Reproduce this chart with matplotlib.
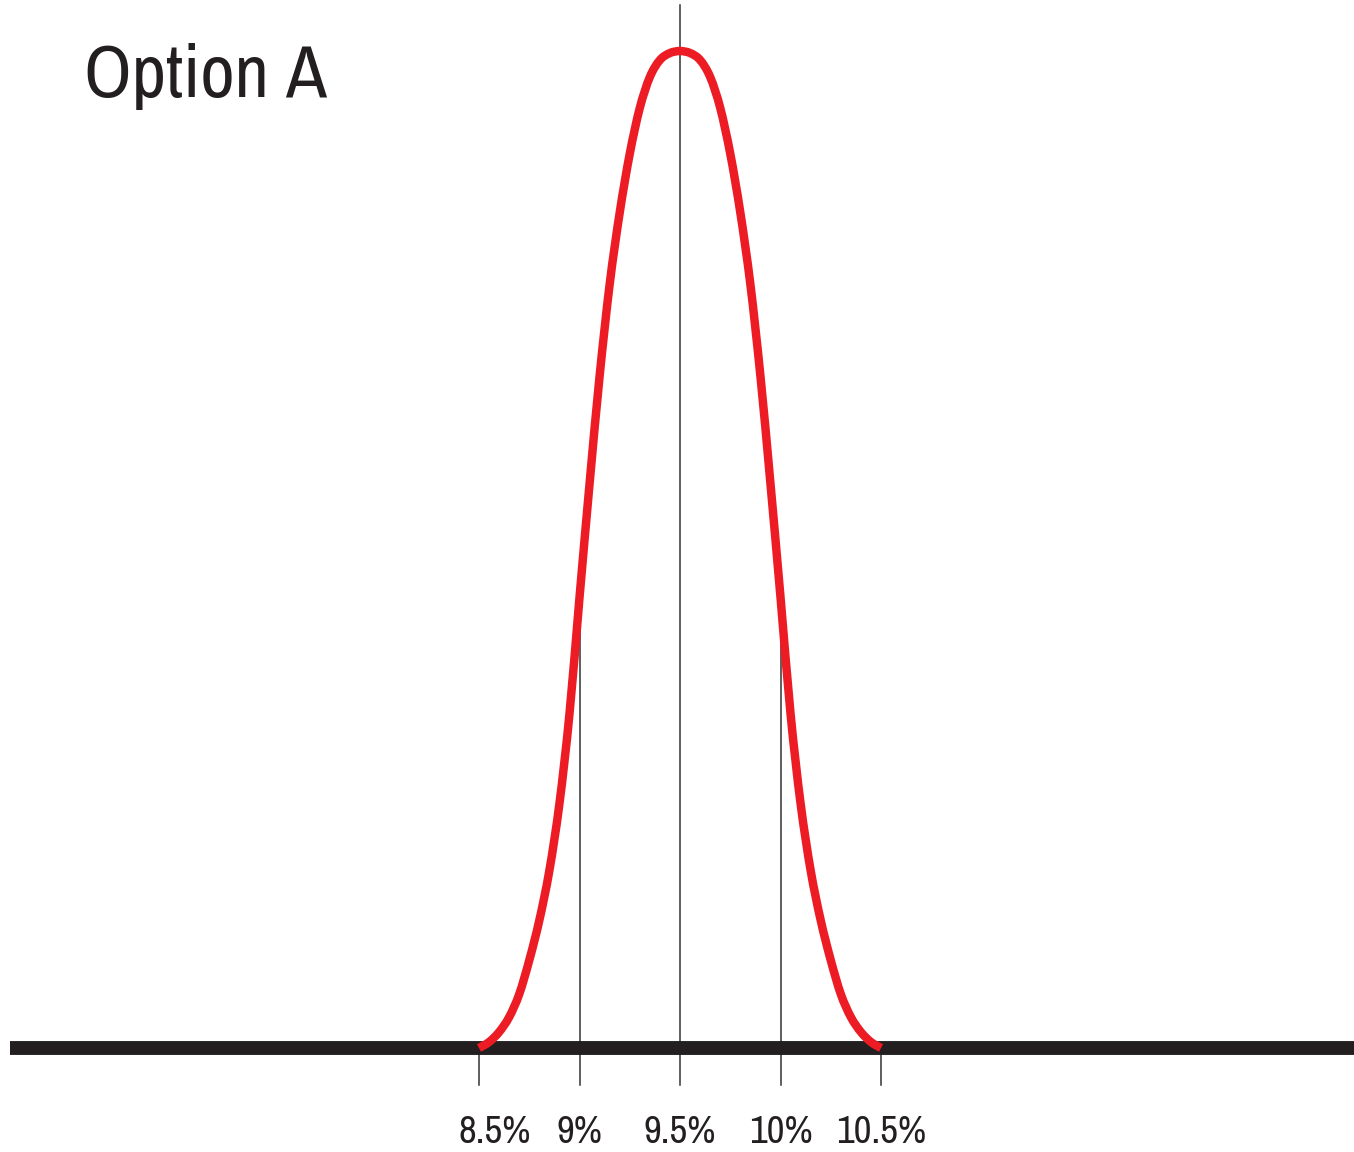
import numpy as np
import matplotlib
matplotlib.use("Agg")
import matplotlib.pyplot as plt
from matplotlib import font_manager
from matplotlib.path import Path
from matplotlib.patches import PathPatch

# ---- data ------------------------------------------------------------
TITLE = "Option A"
TICKS = [8.5, 9.0, 9.5, 10.0, 10.5]
TICK_LABELS = ["8.5%", "9%", "9.5%", "10%", "10.5%"]
MEAN = 9.5

# red bell curve: x in %, height relative to the peak (read every 0.05%)
CURVE_X = [8.50, 8.55, 8.60, 8.65, 8.70, 8.75, 8.80, 8.85, 8.90, 8.95,
           9.00, 9.05, 9.10, 9.15, 9.20, 9.25, 9.30, 9.35, 9.40, 9.45,
           9.50,
           9.55, 9.60, 9.65, 9.70, 9.75, 9.80, 9.85, 9.90, 9.95, 10.00,
           10.05, 10.10, 10.15, 10.20, 10.25, 10.30, 10.35, 10.40, 10.45,
           10.50]
CURVE_Y = [0.000, 0.006, 0.016, 0.031, 0.054, 0.088, 0.128, 0.178, 0.245,
           0.335, 0.452, 0.566, 0.674, 0.766, 0.838, 0.897, 0.943, 0.974,
           0.991, 0.998,
           1.000,
           0.998, 0.991, 0.974, 0.943, 0.897, 0.838, 0.766, 0.674, 0.566,
           0.452, 0.335, 0.245, 0.178, 0.128, 0.088, 0.054, 0.031, 0.016,
           0.006, 0.000]

RED = "#ed1c24"
INK = "#231f20"


def pick_font():
    # a narrow sans is closest to the original lettering, if one is installed
    for f in font_manager.fontManager.ttflist:
        if ("Narrow" in f.name or "Condensed" in f.name) and f.style == "normal" \
                and f.weight in (400, "normal", "regular"):
            return font_manager.FontProperties(fname=f.fname)
    return font_manager.FontProperties(family=["Liberation Sans", "DejaVu Sans"])


def smooth_path(xs, ys):
    """Catmull-Rom through the read points, drawn as cubic Bezier segments."""
    p = np.column_stack([xs, ys])
    p = np.vstack([p[0], p, p[-1]])
    verts = [p[1]]
    codes = [Path.MOVETO]
    for i in range(1, len(p) - 2):
        c1 = p[i] + (p[i + 1] - p[i - 1]) / 6.0
        c2 = p[i + 1] - (p[i + 2] - p[i]) / 6.0
        verts += [c1, c2, p[i + 1]]
        codes += [Path.CURVE4] * 3
    return Path(verts, codes)


font = pick_font()

fig = plt.figure(figsize=(13.54, 11.52), dpi=100)
ax = fig.add_axes([0, 0, 1, 1])
ax.set_xlim(6.117, 12.853)
ax.set_ylim(-0.1043, 1.0512)
ax.axis("off")

# baseline
ax.plot([6.167, 12.853], [0, 0], color=INK, lw=10, solid_capstyle="butt", zorder=2)

# vertical guides: centre one runs to the top, the +/-0.5 ones stop at the curve
tick_bottom = -0.037
for t in TICKS:
    if t == MEAN:
        top = 1.046
    else:
        top = float(np.interp(t, CURVE_X, CURVE_Y))
    ax.plot([t, t], [tick_bottom, top], color="#333333", lw=1.1, zorder=1)

ax.add_patch(PathPatch(smooth_path(CURVE_X, CURVE_Y), facecolor="none",
                       edgecolor=RED, lw=6.1, capstyle="butt",
                       joinstyle="round", zorder=3))

# tick labels (the first one sits a little right of its tick in the original)
nudge = {"8.5%": 0.08}
for t, lab in zip(TICKS, TICK_LABELS):
    ax.text(t + nudge.get(lab, 0.0), -0.0953, lab, ha="center", va="baseline",
            fontsize=28, color=INK, fontproperties=font)

ax.text(0.062, 0.9158, TITLE, transform=ax.transAxes, ha="left", va="baseline",
        fontsize=54, color=INK, fontproperties=font)

fig.savefig("out.png", dpi=100)
